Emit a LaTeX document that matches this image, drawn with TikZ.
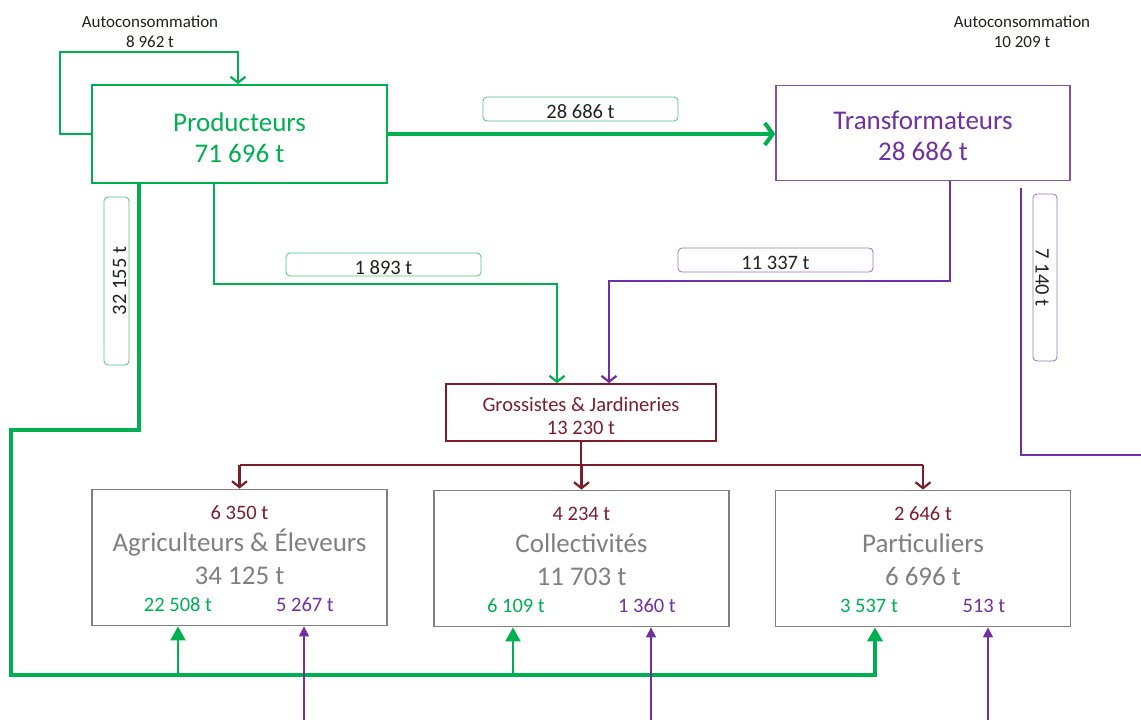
\documentclass[tikz,border=0pt]{standalone}
\usepackage{fontspec}
\setmainfont{Carlito}
\usetikzlibrary{arrows.meta, positioning, calc}

\definecolor{flowgreen}{HTML}{00B050}
\definecolor{flowpurple}{HTML}{7030A0}
\definecolor{transpurple}{HTML}{7A54A6}
\definecolor{grossred}{HTML}{7A1E2A}
\definecolor{clientgray}{HTML}{808080}
\definecolor{labgreen}{HTML}{4CC47C}
\definecolor{labpurple}{HTML}{9B70C2}
\definecolor{labtext}{HTML}{1C241C}

\newcommand{\flowbig}{\fontsize{27}{31.5}\selectfont}
\newcommand{\flowmid}{\fontsize{20.5}{23.5}\selectfont}
\newcommand{\flowsmall}{\fontsize{17}{20}\selectfont}

\begin{document}
\begin{tikzpicture}[
        x=1pt, y=-1pt,
        prodbox/.style={rectangle, draw=flowgreen, line width=1.8pt, text=flowgreen, font=\flowbig, align=center, minimum width=295pt},
        transbox/.style={rectangle, draw=transpurple, line width=1.5pt, text=flowpurple, font=\flowbig, align=center, minimum width=294pt},
        grossbox/.style={rectangle, draw=grossred, line width=1.5pt, text=grossred, font=\flowmid, align=center, minimum width=270pt, minimum height=57pt},
        clientbox/.style={rectangle, draw=clientgray, line width=1.8pt, minimum width=295pt, minimum height=136pt},
        clientname/.style={anchor=base, text=clientgray, font=\flowbig},
        clientnum/.style={anchor=base, font=\flowmid},
        autolabel/.style={align=center, text=labtext, font=\flowsmall},
        glabel/.style={rectangle, rounded corners=4pt, draw=labgreen, line width=0.8pt, text=labtext, font=\flowmid, minimum width=195pt, minimum height=24pt, inner sep=0pt, text height=19pt, text depth=0pt},
        plabel/.style={glabel, draw=labpurple},
        gthick/.style={draw=flowgreen, line width=4pt},
        gthin/.style={draw=flowgreen, line width=2.2pt},
        pline/.style={draw=flowpurple, line width=2.5pt},
        rline/.style={draw=grossred, line width=2.5pt},
        barb/.style={-{Straight Barb[length=6pt, width=15pt, line width=2.2pt]}},
        upg/.style={draw=flowgreen, line width=2pt, -{Triangle[length=14pt, width=15pt]}},
        upp/.style={draw=flowpurple, line width=1.5pt, -{Triangle[length=10pt, width=10pt]}}
    ]
    \useasboundingbox (0,0) rectangle (1141,720);

    % main boxes
    \node[prodbox, minimum height=98pt] (prod) at (239.5,134) {\rule{0pt}{26pt}Producteurs\\71 696 t};
    \node[transbox, minimum height=95pt] (trans) at (923,133) {\rule{0pt}{24.5pt}Transformateurs\\28 686 t};
    \node[grossbox] (gross) at (581,412.5) {\rule{0pt}{21pt}Grossistes \& Jardineries\\13 230 t};
    \node[clientbox] (agri) at (239.5,557.5) {};
    \node[clientbox] (coll) at (581.5,558.5) {};
    \node[clientbox] (part) at (923,558.5) {};

    % text of the client boxes
    \node[clientnum, text=grossred] (agrigross) at ([yshift=-31pt]agri.north) {6 350 t};
    \node[clientname] (agriname) at ([yshift=-63pt]agri.north) {Agriculteurs \& Éleveurs};
    \node[clientname] (agritot) at ([yshift=-96pt]agri.north) {34 125 t};
    \node[clientnum, text=flowgreen] (agriprod) at ([xshift=-61.5pt,yshift=-123pt]agri.north) {22 508 t};
    \node[clientnum, text=flowpurple] (agritrans) at ([xshift=65.5pt,yshift=-123pt]agri.north) {5 267 t};

    \node[clientnum, text=grossred] (collgross) at ([yshift=-31pt]coll.north) {4 234 t};
    \node[clientname] (collname) at ([yshift=-63pt]coll.north) {Collectivités};
    \node[clientname] (colltot) at ([yshift=-96pt]coll.north) {11 703 t};
    \node[clientnum, text=flowgreen] (collprod) at ([xshift=-65.5pt,yshift=-123pt]coll.north) {6 109 t};
    \node[clientnum, text=flowpurple] (colltrans) at ([xshift=65.5pt,yshift=-123pt]coll.north) {1 360 t};

    \node[clientnum, text=grossred] (partgross) at ([yshift=-31pt]part.north) {2 646 t};
    \node[clientname] (partname) at ([yshift=-63pt]part.north) {Particuliers};
    \node[clientname] (parttot) at ([yshift=-96pt]part.north) {6 696 t};
    \node[clientnum, text=flowgreen] (partprod) at ([xshift=-54pt,yshift=-123pt]part.north) {3 537 t};
    \node[clientnum, text=flowpurple] (parttrans) at ([xshift=61pt,yshift=-123pt]part.north) {513 t};

    % autoconsommation
    \node[autolabel] (autoprod) at (150,32) {Autoconsommation\\8 962 t};
    \node[autolabel] (autotrans) at (1022,32) {Autoconsommation\\10 209 t};

    % flow labels
    \node[glabel] (lab28686) at (580.5,109) {28 686 t};
    \node[glabel, minimum height=23pt] (lab1893) at (383.5,264.5) {1 893 t};
    \node[plabel] (lab11337) at (775.5,260) {11 337 t};
    \node[glabel, rotate=90, minimum width=168pt, minimum height=25pt] (lab32155) at (116.5,281) {32 155 t};
    \node[plabel, rotate=-90, minimum width=167pt, minimum height=24pt] (lab7140) at (1045,277.5) {7 140 t};

    % bends
    \coordinate (trunk1) at (11,430);
    \coordinate (trunk2) at (875,675);
    \coordinate (g1893) at (557,284);
    \coordinate (p11337) at (609,281);
    \coordinate (pout) at (1141,455);
    \coordinate (dist) at (581,465);
    \coordinate (bottom) at (0,721);

    % producteurs
    \draw[gthin, line width=2pt, barb] (prod.west) -- ++(-31,0) |- ($(prod.north)+(-1.5,-32)$) -- ([xshift=-1.5pt]prod.north);
    \draw[gthick, -{Straight Barb[length=8pt, width=22pt, line width=4pt]}] (prod.east) -- (prod.east -| trans.west);
    \draw[gthin, barb] ([xshift=-25.5pt]prod.south) |- (g1893) -- (g1893 |- gross.north);
    \draw[gthick, -{Triangle[length=14pt, width=15pt]}] ([xshift=-100.5pt]prod.south) |- (trunk1) |- (trunk2) -- (trunk2 |- part.south);
    \draw[upg] ([xshift=-61.5pt]agri.south |- trunk2) -- ([xshift=-61.5pt]agri.south);
    \draw[upg] ([xshift=-68.5pt]coll.south |- trunk2) -- ([xshift=-68.5pt]coll.south);

    % transformateurs
    \draw[pline, barb] ([xshift=27pt]trans.south) |- (p11337) -- (p11337 |- gross.north);
    \draw[pline] ([xshift=98pt,yshift=-6.5pt]trans.south) |- (pout);
    \draw[upp] ([xshift=64.5pt]agri.south |- bottom) -- ([xshift=64.5pt]agri.south);
    \draw[upp] ([xshift=69.5pt]coll.south |- bottom) -- ([xshift=69.5pt]coll.south);
    \draw[upp] ([xshift=65pt]part.south |- bottom) -- ([xshift=65pt]part.south);

    % grossistes
    \draw[rline] (gross.south) -- (dist);
    \draw[rline] (agri.north |- dist) -- (part.north |- dist);
    \draw[rline, barb] (agri.north |- dist) -- (agri.north);
    \draw[rline, barb] (coll.north |- dist) -- (coll.north);
    \draw[rline, barb] (part.north |- dist) -- (part.north);
\end{tikzpicture}
\end{document}
